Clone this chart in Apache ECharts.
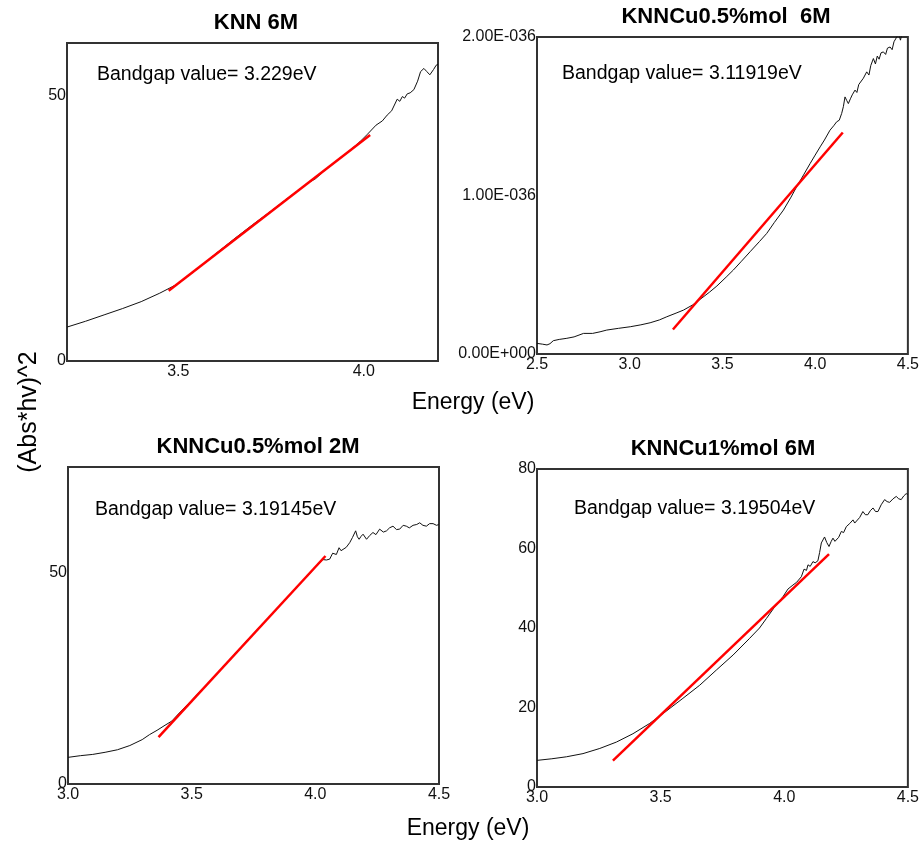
<!DOCTYPE html>
<html>
<head>
<meta charset="utf-8">
<script src="https://cdn.jsdelivr.net/npm/echarts@6/dist/echarts.min.js"></script>
<style>
  html, body { margin: 0; padding: 0; background: #fff; }
  #chart { width: 922px; height: 846px; }
</style>
</head>
<body>
<div id="chart"></div>
<script>
// Panel titles and Tauc-plot bandgaps (x-intercept of the linear fit, eV)
const panelTitles = ['KNN 6M', 'KNNCu0.5%mol  6M', 'KNNCu0.5%mol 2M', 'KNNCu1%mol 6M'];
const bandgaps = [3.229, 3.11919, 3.19145, 3.19504];

// Linear fit of the absorption edge: slope and the energy span it is drawn over
const fitSlopes = [54.1, 1.357, 63.5, 59.4];
const fitStart = [3.474, 3.233, 3.366, 3.307];
const fitEnd = [4.017, 4.149, 4.041, 4.181];

// Axis ranges
const xMin = [3.2, 2.5, 3.0, 3.0];
const xMax = [4.2, 4.5, 4.5, 4.5];
const yMax = [60, 2, 75, 80];
const xTicks = [[3.5, 4.0], [2.5, 3.0, 3.5, 4.0, 4.5], [3.0, 3.5, 4.0, 4.5], [3.0, 3.5, 4.0, 4.5]];
const yTicks = [[0, 50], [0, 1, 2], [0, 50], [0, 20, 40, 60, 80]];

// (Abs*hv)^2 versus photon energy (eV)
const knn6m = [
  [3.20, 6.4], [3.25, 7.5], [3.30, 8.7], [3.35, 9.9], [3.40, 11.2], [3.45, 12.8], [3.50, 14.6],
  [3.55, 17.3], [3.60, 20.2], [3.65, 23.0], [3.70, 25.7], [3.75, 28.3], [3.80, 31.0], [3.85, 33.6],
  [3.87, 34.4], [3.90, 36.3], [3.95, 39.0], [3.99, 41.4], [4.01, 42.8], [4.033, 44.5], [4.05, 45.3],
  [4.063, 46.4], [4.075, 47.2], [4.09, 49.4], [4.097, 49.0], [4.104, 49.9], [4.11, 49.6], [4.117, 50.4],
  [4.125, 50.6], [4.135, 51.2], [4.145, 52.8], [4.153, 54.6], [4.162, 55.2], [4.17, 54.6], [4.178, 54.0],
  [4.188, 55.0], [4.195, 55.8], [4.2, 56.0]
];

// values in units of 1E-036
const knnCu05_6m = [
  [2.50, 0.067], [2.53, 0.062], [2.554, 0.057], [2.57, 0.065], [2.588, 0.084], [2.62, 0.092],
  [2.661, 0.099], [2.70, 0.108], [2.751, 0.13], [2.80, 0.13], [2.84, 0.14], [2.876, 0.151],
  [2.94, 0.162], [3.003, 0.172], [3.06, 0.184], [3.11, 0.197], [3.16, 0.215], [3.20, 0.235],
  [3.25, 0.258], [3.29, 0.277], [3.34, 0.31], [3.38, 0.345], [3.43, 0.39], [3.47, 0.429],
  [3.52, 0.485], [3.559, 0.53], [3.60, 0.582], [3.649, 0.645], [3.70, 0.71], [3.739, 0.761],
  [3.78, 0.83], [3.829, 0.908], [3.87, 0.99], [3.90, 1.055], [3.94, 1.135], [3.973, 1.202],
  [4.00, 1.255], [4.027, 1.307], [4.05, 1.35], [4.08, 1.412], [4.10, 1.44], [4.116, 1.465],
  [4.13, 1.475], [4.143, 1.518], [4.152, 1.56], [4.161, 1.622], [4.17, 1.60], [4.179, 1.58],
  [4.19, 1.61], [4.20, 1.635], [4.215, 1.665], [4.225, 1.65], [4.235, 1.70], [4.245, 1.69],
  [4.26, 1.74], [4.27, 1.73], [4.278, 1.78], [4.29, 1.76], [4.30, 1.82], [4.314, 1.864],
  [4.325, 1.83], [4.335, 1.88], [4.345, 1.86], [4.355, 1.90], [4.368, 1.906], [4.38, 1.89],
  [4.39, 1.93], [4.404, 1.937], [4.415, 1.92], [4.425, 1.97], [4.44, 2.0], [4.45, 2.02],
  [4.46, 1.98], [4.47, 2.03], [4.48, 2.05], [4.5, 2.06]
];

const knnCu05_2m = [
  [3.00, 6.3], [3.05, 6.7], [3.10, 7.0], [3.15, 7.5], [3.20, 8.1], [3.25, 9.1], [3.30, 10.5],
  [3.33, 11.7], [3.36, 12.7], [3.384, 13.6], [3.42, 14.9], [3.45, 16.8], [3.50, 19.8], [3.55, 22.9],
  [3.60, 26.0], [3.65, 29.2], [3.70, 32.4], [3.75, 35.6], [3.80, 38.7], [3.85, 41.8], [3.90, 45.0],
  [3.95, 48.1], [4.00, 51.2], [4.03, 53.1], [4.045, 53.0], [4.058, 53.2], [4.07, 54.6], [4.085, 54.3],
  [4.096, 55.9], [4.104, 55.2], [4.112, 55.5], [4.125, 56.0], [4.139, 57.1], [4.15, 58.3],
  [4.163, 59.9], [4.17, 58.5], [4.177, 57.9], [4.185, 58.6], [4.193, 59.1], [4.207, 57.9],
  [4.22, 58.8], [4.233, 59.5], [4.245, 59.0], [4.26, 60.3], [4.275, 59.6], [4.288, 59.9],
  [4.30, 60.6], [4.314, 61.0], [4.328, 60.2], [4.341, 60.3], [4.355, 61.2], [4.368, 61.0],
  [4.38, 60.6], [4.395, 61.2], [4.41, 61.4], [4.422, 61.8], [4.435, 61.2], [4.449, 61.0],
  [4.462, 61.6], [4.476, 61.6], [4.49, 61.2], [4.5, 61.4]
];

const knnCu1_6m = [
  [3.00, 6.7], [3.06, 7.1], [3.119, 7.6], [3.186, 8.4], [3.254, 9.7], [3.321, 11.3], [3.388, 13.4],
  [3.456, 16.0], [3.523, 19.1], [3.59, 22.3], [3.658, 25.6], [3.725, 29.4], [3.793, 33.2],
  [3.86, 37.4], [3.90, 40.0], [3.928, 42.4], [3.96, 45.2], [3.995, 47.9], [4.015, 49.8],
  [4.035, 50.8], [4.05, 51.5], [4.069, 52.9], [4.08, 54.8], [4.09, 54.5], [4.096, 55.9],
  [4.105, 55.5], [4.116, 56.7], [4.125, 56.4], [4.136, 56.9], [4.143, 59.0], [4.15, 61.4],
  [4.163, 62.9], [4.172, 61.5], [4.181, 60.5], [4.19, 61.8], [4.197, 62.6], [4.205, 61.8],
  [4.211, 61.4], [4.22, 62.8], [4.231, 64.3], [4.24, 64.0], [4.251, 65.5], [4.265, 66.3],
  [4.278, 67.2], [4.285, 66.4], [4.292, 66.4], [4.305, 67.8], [4.318, 69.3], [4.328, 68.5],
  [4.338, 68.5], [4.348, 69.5], [4.359, 70.2], [4.369, 69.3], [4.379, 69.3], [4.392, 71.0],
  [4.406, 72.3], [4.416, 71.8], [4.426, 71.6], [4.44, 72.5], [4.453, 73.1], [4.463, 72.5],
  [4.473, 72.3], [4.483, 73.2], [4.493, 73.8], [4.5, 73.6]
];

const curves = [knn6m, knnCu05_6m, knnCu05_2m, knnCu1_6m];

// ---- layout ----
const FONT = '"Liberation Sans", Arial, sans-serif';
const grids = [
  { left: 67, top: 43, width: 371, height: 318 },
  { left: 537, top: 37, width: 371, height: 317 },
  { left: 68, top: 467, width: 371, height: 317 },
  { left: 537, top: 469, width: 371, height: 318 }
];
const titlePos = [[256, 23], [726, 17], [258, 447], [723, 449]];
const notePos = [[97, 75], [562, 74], [95, 510], [574, 509]];

const yFormat = [
  v => String(v),
  v => v === 0 ? '0.00E+000' : v.toFixed(2) + 'E-036',
  v => String(v),
  v => String(v)
];

const option = {
  animation: false,
  backgroundColor: '#fff',
  grid: grids.map(g => Object.assign({
    show: true, borderColor: '#333', borderWidth: 2, backgroundColor: 'transparent'
  }, g)),
  xAxis: grids.map((g, i) => ({
    type: 'value', gridIndex: i, min: xMin[i], max: xMax[i],
    axisLine: { show: false }, axisTick: { show: false }, splitLine: { show: false },
    axisLabel: {
      customValues: xTicks[i], showMinLabel: true, showMaxLabel: true,
      margin: 3, fontSize: 16, color: '#111', fontFamily: FONT,
      formatter: v => v.toFixed(1)
    }
  })),
  yAxis: grids.map((g, i) => ({
    type: 'value', gridIndex: i, min: 0, max: yMax[i],
    axisLine: { show: false }, axisTick: { show: false }, splitLine: { show: false },
    axisLabel: {
      customValues: yTicks[i], showMinLabel: true, showMaxLabel: true,
      margin: 1, fontSize: 16, color: '#111', fontFamily: FONT,
      formatter: yFormat[i]
    }
  })),
  series: [],
  graphic: []
};

curves.forEach((data, i) => {
  option.series.push({
    type: 'line', xAxisIndex: i, yAxisIndex: i, data: data,
    showSymbol: false, clip: true, z: 2,
    lineStyle: { color: '#111', width: 1 }
  });
  // linear fit crossing the energy axis at the bandgap
  const fit = [fitStart[i], fitEnd[i]].map(x => [x, fitSlopes[i] * (x - bandgaps[i])]);
  option.series.push({
    type: 'line', xAxisIndex: i, yAxisIndex: i, data: fit,
    showSymbol: false, clip: true, z: 3,
    lineStyle: { color: '#ff0000', width: 2.5 }
  });
  option.graphic.push({
    type: 'text', x: titlePos[i][0], y: titlePos[i][1], z: 10,
    style: { text: panelTitles[i], fontSize: 22, fontWeight: 'bold', fontFamily: FONT,
      fill: '#000', align: 'center', verticalAlign: 'middle' }
  });
  option.graphic.push({
    type: 'text', x: notePos[i][0], y: notePos[i][1], z: 10,
    style: { text: 'Bandgap value= ' + bandgaps[i] + 'eV', fontSize: 19.5, fontFamily: FONT,
      fill: '#000', align: 'left', verticalAlign: 'middle' }
  });
});

// shared axis titles
option.graphic.push(
  { type: 'text', x: 473, y: 403, z: 10,
    style: { text: 'Energy (eV)', fontSize: 23, fontFamily: FONT, fill: '#000', align: 'center', verticalAlign: 'middle' } },
  { type: 'text', x: 468, y: 829, z: 10,
    style: { text: 'Energy (eV)', fontSize: 23, fontFamily: FONT, fill: '#000', align: 'center', verticalAlign: 'middle' } },
  { type: 'text', x: 29, y: 412, rotation: Math.PI / 2, z: 10,
    style: { text: '(Abs*hv)^2', fontSize: 25, fontFamily: FONT, fill: '#000', align: 'center', verticalAlign: 'middle' } }
);

const chart = echarts.init(document.getElementById('chart'), null, { renderer: 'canvas' });
chart.setOption(option);
</script>
</body>
</html>
